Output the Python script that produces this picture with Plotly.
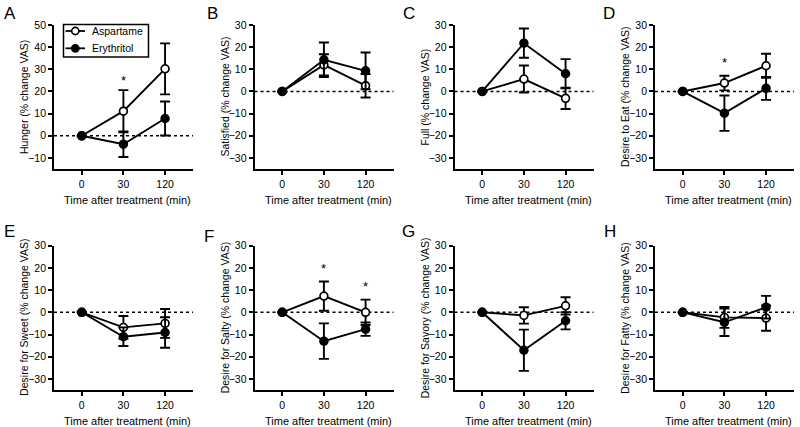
import plotly.graph_objects as go

# ---------------- data ----------------
times = ["0", "30", "120"]
letters = ["A", "B", "C", "D", "E", "F", "G", "H"]
ytitles = ["Hunger (% change VAS)", "Satisfied (% change VAS)", "Full (% change VAS)",
           "Desire to Eat (% change VAS)", "Desire for Sweet (% change VAS)",
           "Desire for Salty (% change VAS)", "Desire for Savory (% change VAS)",
           "Desire for Fatty (% change VAS)"]

hunger_asp = [0, 11.1, 30.2];      hunger_asp_err = [0, 9.5, 11.5]
hunger_ery = [0, -3.8, 7.8];       hunger_ery_err = [0, 5.8, 7.7]
satisfied_asp = [0, 12.0, 2.6];    satisfied_asp_err = [0, 4.8, 5.3]
satisfied_ery = [0, 14.3, 9.3];    satisfied_ery_err = [0, 7.8, 8.3]
full_asp = [0, 5.6, -3.1];         full_asp_err = [0, 6.1, 4.8]
full_ery = [0, 21.8, 8.0];         full_ery_err = [0, 6.6, 6.6]
eat_asp = [0, 3.8, 11.6];          eat_asp_err = [0, 3.3, 5.4]
eat_ery = [0, -9.8, 1.4];          eat_ery_err = [0, 8.0, 5.2]
sweet_asp = [0, -6.8, -5.0];       sweet_asp_err = [0, 5.1, 6.5]
sweet_ery = [0, -11.0, -9.1];      sweet_ery_err = [0, 4.2, 6.9]
salty_asp = [0, 7.3, 0.0];         salty_asp_err = [0, 6.6, 5.7]
salty_ery = [0, -13.0, -7.6];      salty_ery_err = [0, 8.0, 3.0]
savory_asp = [0, -1.4, 2.9];       savory_asp_err = [0, 3.7, 3.9]
savory_ery = [0, -17.1, -3.8];     savory_ery_err = [0, 9.3, 3.9]
fatty_asp = [0, -2.3, -2.6];       fatty_asp_err = [0, 4.7, 5.7]
fatty_ery = [0, -4.5, 2.3];        fatty_ery_err = [0, 6.2, 5.1]

# significance markers: (panel index, time index, y position)
stars = [(0, 1, 26), (2, 1, 35), (3, 1, 13.8), (5, 1, 20.6), (5, 2, 12.3)]

yranges = [[-15, 50]] + [[-35, 30]] * 7
ytickvals = [list(range(-10, 51, 10))] + [list(range(-30, 31, 10))] * 7

asp = [(hunger_asp, hunger_asp_err), (satisfied_asp, satisfied_asp_err), (full_asp, full_asp_err),
       (eat_asp, eat_asp_err), (sweet_asp, sweet_asp_err), (salty_asp, salty_asp_err),
       (savory_asp, savory_asp_err), (fatty_asp, fatty_asp_err)]
ery = [(hunger_ery, hunger_ery_err), (satisfied_ery, satisfied_ery_err), (full_ery, full_ery_err),
       (eat_ery, eat_ery_err), (sweet_ery, sweet_ery_err), (salty_ery, salty_ery_err),
       (savory_ery, savory_ery_err), (fatty_ery, fatty_ery_err)]

# ---------------- layout helpers ----------------
W, H = 800, 427
FONT = "Arial, Liberation Sans, sans-serif"


def px(x):
    return x / W


def py(y):
    return 1 - y / H


col_x = [54, 254.5, 454.5, 655]
col_w = 139
rows = [(25, 169), (245.7, 390)]
xpos = [0, 1, 2]

fig = go.Figure()
annotations = []
shapes = []
layout = {}

for i in range(8):
    r, c = divmod(i, 4)
    n = i + 1
    xn = "x" if n == 1 else f"x{n}"
    yn = "y" if n == 1 else f"y{n}"
    x0 = col_x[c]
    top, bot = rows[r]

    for (mean, err), name, fill in [(asp[i], "Aspartame", "white"), (ery[i], "Erythritol", "black")]:
        fig.add_trace(go.Scatter(
            x=xpos, y=mean, name=name, mode="lines+markers", showlegend=False,
            xaxis=xn, yaxis=yn, cliponaxis=False,
            line=dict(color="black", width=1.9),
            marker=dict(symbol="circle", size=7.8, color=fill, line=dict(color="black", width=1.7)),
            error_y=dict(type="data", array=err, visible=True, color="black", thickness=1.9, width=5),
        ))

    axkey = "xaxis" if n == 1 else f"xaxis{n}"
    aykey = "yaxis" if n == 1 else f"yaxis{n}"
    layout[axkey] = dict(
        domain=[px(x0), px(x0 + col_w)], anchor=yn, range=[-0.665, 2.67], automargin=False,
        tickmode="array", tickvals=xpos, ticktext=times,
        showline=True, linecolor="black", linewidth=1.8, mirror=False,
        ticks="outside", ticklen=4, tickwidth=1.5, tickcolor="black",
        showgrid=False, zeroline=False, tickfont=dict(size=10.5, color="black", family=FONT),
    )
    layout[aykey] = dict(
        domain=[py(bot), py(top)], anchor=xn, range=yranges[i], automargin=False,
        tickmode="array", tickvals=ytickvals[i],
        showline=True, linecolor="black", linewidth=1.8,
        ticks="outside", ticklen=4, tickwidth=1.5, tickcolor="black",
        showgrid=False, zeroline=False, tickfont=dict(size=10.5, color="black", family=FONT),
    )

    # dotted zero line
    shapes.append(dict(type="line", xref=f"{xn} domain", x0=0, x1=1, yref=yn, y0=0, y1=0,
                       line=dict(color="black", width=1.5, dash="dot"), layer="below"))

    # axis titles
    annotations.append(dict(text=ytitles[i], xref="paper", yref="paper",
                            x=px(x0 - 30), y=py((top + bot) / 2), textangle=-90,
                            showarrow=False, xanchor="center", yanchor="middle",
                            font=dict(size=10.5, color="black", family=FONT)))
    annotations.append(dict(text="Time after treatment (min)", xref="paper", yref="paper",
                            x=px(x0 + col_w / 2 + 4), y=py(bot + 31),
                            showarrow=False, xanchor="center", yanchor="middle",
                            font=dict(size=11, color="black", family=FONT)))

# panel letters
letter_pos = [(9.5, 13), (212, 13), (409, 13), (609, 13), (9, 231), (209, 237), (408, 231), (610, 231)]
for L, (lx, ly) in zip(letters, letter_pos):
    annotations.append(dict(text=L, xref="paper", yref="paper", x=px(lx), y=py(ly),
                            showarrow=False, xanchor="center", yanchor="middle",
                            font=dict(size=17, color="black", family=FONT)))

# significance stars
for (pi, ti, yv) in stars:
    n = pi + 1
    xn = "x" if n == 1 else f"x{n}"
    yn = "y" if n == 1 else f"y{n}"
    annotations.append(dict(text="*", xref=xn, yref=yn, x=xpos[ti], y=yv, yshift=-2,
                            showarrow=False, xanchor="center", yanchor="middle",
                            font=dict(size=13, color="black", family=FONT)))

# legend (panel A)
lg_l, lg_r, lg_t, lg_b = 63.5, 148.5, 24.5, 57
shapes.append(dict(type="rect", xref="paper", yref="paper", x0=px(lg_l), x1=px(lg_r),
                   y0=py(lg_b), y1=py(lg_t), line=dict(color="black", width=1.5),
                   fillcolor="white", layer="above"))
for name, fill, ly in [("Aspartame", "white", 31), ("Erythritol", "black", 48.3)]:
    shapes.append(dict(type="line", xref="paper", yref="paper", x0=px(65.5), x1=px(85),
                       y0=py(ly), y1=py(ly), line=dict(color="black", width=1.8), layer="above"))
    rr = 3.6
    shapes.append(dict(type="circle", xref="paper", yref="paper", x0=px(75.3 - rr), x1=px(75.3 + rr),
                       y0=py(ly + rr), y1=py(ly - rr), fillcolor=fill,
                       line=dict(color="black", width=1.6), layer="above"))
    annotations.append(dict(text=name, xref="paper", yref="paper", x=px(90), y=py(ly),
                            showarrow=False, xanchor="left", yanchor="middle",
                            font=dict(size=10.5, color="black", family=FONT)))

fig.update_layout(
    width=W, height=H, margin=dict(l=0, r=0, t=0, b=0, pad=0, autoexpand=False),
    paper_bgcolor="white", plot_bgcolor="white",
    font=dict(family=FONT, color="black"),
    showlegend=False, shapes=shapes, annotations=annotations,
    **layout,
)

fig.write_html("out.html", config={"displayModeBar": False},
               post_script="document.body.style.margin='0px';document.body.style.padding='0px';")
